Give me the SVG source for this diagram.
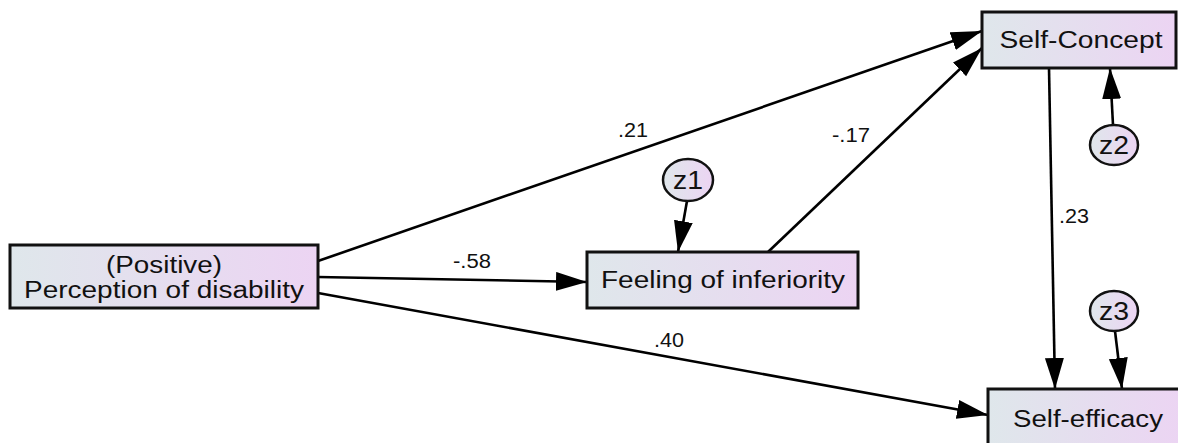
<svg xmlns="http://www.w3.org/2000/svg" width="1178" height="443" viewBox="0 0 1178 443">
  <defs>
    <linearGradient id="fillGrad" x1="0" y1="0" x2="1" y2="0">
      <stop offset="0" stop-color="#dfe7eb"/>
      <stop offset="1" stop-color="#ecd4f3"/>
    </linearGradient>
    <marker id="arrow" markerUnits="userSpaceOnUse" markerWidth="32" markerHeight="20" refX="31" refY="9.5" orient="auto" viewBox="0 0 32 20">
      <path d="M0,0 L31,9.5 L0,19 Z" fill="#000"/>
    </marker>
    <style>
      .box { fill: url(#fillGrad); stroke: #111; stroke-width: 3; }
      .err { fill: url(#fillGrad); stroke: #111; stroke-width: 2.5; }
      .lbl { font-family: "Liberation Sans", Arial, sans-serif; font-size: 23px; fill: #111; text-anchor: middle; }
      .zlbl { font-family: "Liberation Sans", Arial, sans-serif; font-size: 25px; fill: #111; text-anchor: middle; }
      .elbl { font-family: "Liberation Sans", Arial, sans-serif; font-size: 19.5px; fill: #111; text-anchor: middle; }
      .edge { stroke: #000; stroke-width: 2.6; fill: none; marker-end: url(#arrow); }
    </style>
  </defs>
  <rect width="1178" height="443" fill="#fff"/>

  <g id="connectors">
    <line class="edge" x1="318" y1="261" x2="982" y2="31"/>
    <line class="edge" x1="318" y1="277" x2="587" y2="282"/>
    <line class="edge" x1="318" y1="293" x2="988" y2="415"/>
    <line class="edge" x1="768" y1="252" x2="982" y2="48"/>
    <line class="edge" x1="1049" y1="68" x2="1055" y2="389"/>
    <line class="edge" x1="687" y1="201" x2="678" y2="252"/>
    <line class="edge" x1="1113" y1="125" x2="1110" y2="68"/>
    <line class="edge" x1="1115" y1="331" x2="1122" y2="389"/>
    <text class="elbl" x="633" y="137" textLength="30" lengthAdjust="spacingAndGlyphs">.21</text>
    <text class="elbl" x="472" y="268" textLength="38" lengthAdjust="spacingAndGlyphs">-.58</text>
    <text class="elbl" x="669" y="347" textLength="30" lengthAdjust="spacingAndGlyphs">.40</text>
    <text class="elbl" x="851" y="142" textLength="38" lengthAdjust="spacingAndGlyphs">-.17</text>
    <text class="elbl" x="1074" y="223" textLength="30" lengthAdjust="spacingAndGlyphs">.23</text>
  </g>

  <g id="perception">
    <rect class="box" x="10" y="245" width="308" height="63"/>
    <text class="lbl" x="164" y="273" textLength="116" lengthAdjust="spacingAndGlyphs">(Positive)</text>
    <text class="lbl" x="164" y="298" textLength="280" lengthAdjust="spacingAndGlyphs">Perception of disability</text>
  </g>

  <g id="feeling">
    <rect class="box" x="587" y="252" width="271" height="56"/>
    <text class="lbl" x="723" y="288" textLength="244" lengthAdjust="spacingAndGlyphs">Feeling of inferiority</text>
  </g>

  <g id="selfconcept">
    <rect class="box" x="982" y="12" width="194" height="56"/>
    <text class="lbl" x="1081" y="48" textLength="163" lengthAdjust="spacingAndGlyphs">Self-Concept</text>
  </g>

  <g id="selfefficacy">
    <rect class="box" x="988" y="389" width="196" height="60"/>
    <text class="lbl" x="1088" y="427" textLength="150" lengthAdjust="spacingAndGlyphs">Self-efficacy</text>
  </g>

  <g id="z1">
    <ellipse class="err" cx="688" cy="180" rx="25" ry="21"/>
    <text class="zlbl" x="688" y="189" textLength="30" lengthAdjust="spacingAndGlyphs">z1</text>
  </g>

  <g id="z2">
    <ellipse class="err" cx="1114" cy="145" rx="24" ry="20"/>
    <text class="zlbl" x="1114" y="154" textLength="30" lengthAdjust="spacingAndGlyphs">z2</text>
  </g>

  <g id="z3">
    <ellipse class="err" cx="1114" cy="311" rx="24" ry="20"/>
    <text class="zlbl" x="1114" y="320" textLength="30" lengthAdjust="spacingAndGlyphs">z3</text>
  </g>
</svg>
